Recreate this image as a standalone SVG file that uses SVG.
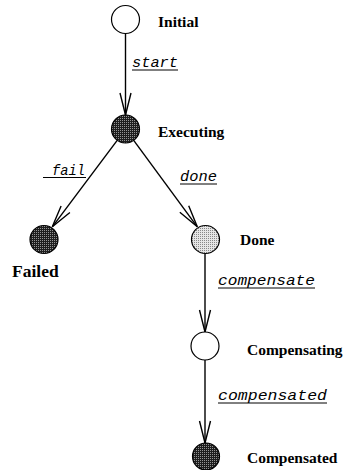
<svg xmlns="http://www.w3.org/2000/svg" width="345" height="470" viewBox="0 0 345 470">
  <defs>
    <style>
      .state { stroke: #000; stroke-width: 1.2; }
      .empty { fill: #fff; }
      .dark { fill: url(#dotsDark); }
      .light { fill: url(#dotsLight); }
      .name { font-family: "Liberation Serif", "Times New Roman", serif; font-weight: bold; font-size: 15.5px; fill: #000; }
      .event { font-family: "Liberation Mono", "Courier New", monospace; font-style: italic; font-size: 15px; fill: #000; }
      .uline { stroke: #000; stroke-width: 1; }
      .edge { stroke: #000; stroke-width: 1.4; fill: none; marker-end: url(#vhead); }
    </style>
    <!-- halftone fills -->
    <pattern id="dotsDark" width="2" height="2" patternUnits="userSpaceOnUse">
      <rect width="2" height="2" fill="#1e1e1e"/>
      <rect width="1" height="1" fill="#949494"/>
    </pattern>
    <pattern id="dotsLight" width="2" height="2" patternUnits="userSpaceOnUse">
      <rect width="2" height="2" fill="#e6e6e6"/>
      <rect width="1" height="1" fill="#888"/>
    </pattern>
    <!-- open V arrowhead -->
    <marker id="vhead" markerUnits="userSpaceOnUse" markerWidth="30" markerHeight="30" viewBox="-25 -10 30 20" refX="0" refY="0" orient="auto">
      <path d="M-22,-5.5 L0,0 L-22,5.5" fill="none" stroke="#000" stroke-width="1.4"/>
    </marker>
  </defs>

  <g id="connectors">
    <line class="edge" x1="125.5" y1="33.5" x2="125.5" y2="115"/>
    <line class="edge" x1="117.2" y1="140.3" x2="52.3" y2="226.8"/>
    <line class="edge" x1="133.7" y1="140.3" x2="197.3" y2="226.8"/>
    <line class="edge" x1="205" y1="253.5" x2="205" y2="332"/>
    <line class="edge" x1="205" y1="360" x2="205" y2="443"/>

    <g id="label-start">
      <text class="event" x="132" y="67" textLength="46" lengthAdjust="spacingAndGlyphs">start</text>
      <line class="uline" x1="132" y1="70" x2="178" y2="70"/>
    </g>
    <g id="label-fail">
      <text class="event" x="52" y="175" textLength="33" lengthAdjust="spacingAndGlyphs">fail</text>
      <line class="uline" x1="43" y1="177.5" x2="86" y2="177.5"/>
    </g>
    <g id="label-done">
      <text class="event" x="180" y="181" textLength="37" lengthAdjust="spacingAndGlyphs">done</text>
      <line class="uline" x1="180" y1="184" x2="217" y2="184"/>
    </g>
    <g id="label-compensate">
      <text class="event" x="218" y="285" textLength="97" lengthAdjust="spacingAndGlyphs">compensate</text>
      <line class="uline" x1="218" y1="288" x2="315" y2="288"/>
    </g>
    <g id="label-compensated">
      <text class="event" x="218" y="400" textLength="109" lengthAdjust="spacingAndGlyphs">compensated</text>
      <line class="uline" x1="218" y1="403" x2="327" y2="403"/>
    </g>
  </g>

  <g id="initial">
    <circle class="state empty" cx="125.5" cy="19.5" r="14"/>
    <text class="name" x="158" y="27">Initial</text>
  </g>
  <g id="executing">
    <circle class="state dark" cx="125.5" cy="129" r="14"/>
    <text class="name" x="158" y="137">Executing</text>
  </g>
  <g id="failed">
    <circle class="state dark" cx="44" cy="239.5" r="14"/>
    <text class="name" x="12" y="277" style="font-size:17.5px">Failed</text>
  </g>
  <g id="done">
    <circle class="state light" cx="205.5" cy="239.5" r="14"/>
    <text class="name" x="240" y="245">Done</text>
  </g>
  <g id="compensating">
    <circle class="state empty" cx="205" cy="346" r="14"/>
    <text class="name" x="247" y="355">Compensating</text>
  </g>
  <g id="compensated">
    <circle class="state dark" cx="206" cy="456.5" r="13.5"/>
    <text class="name" x="247" y="463">Compensated</text>
  </g>
</svg>
